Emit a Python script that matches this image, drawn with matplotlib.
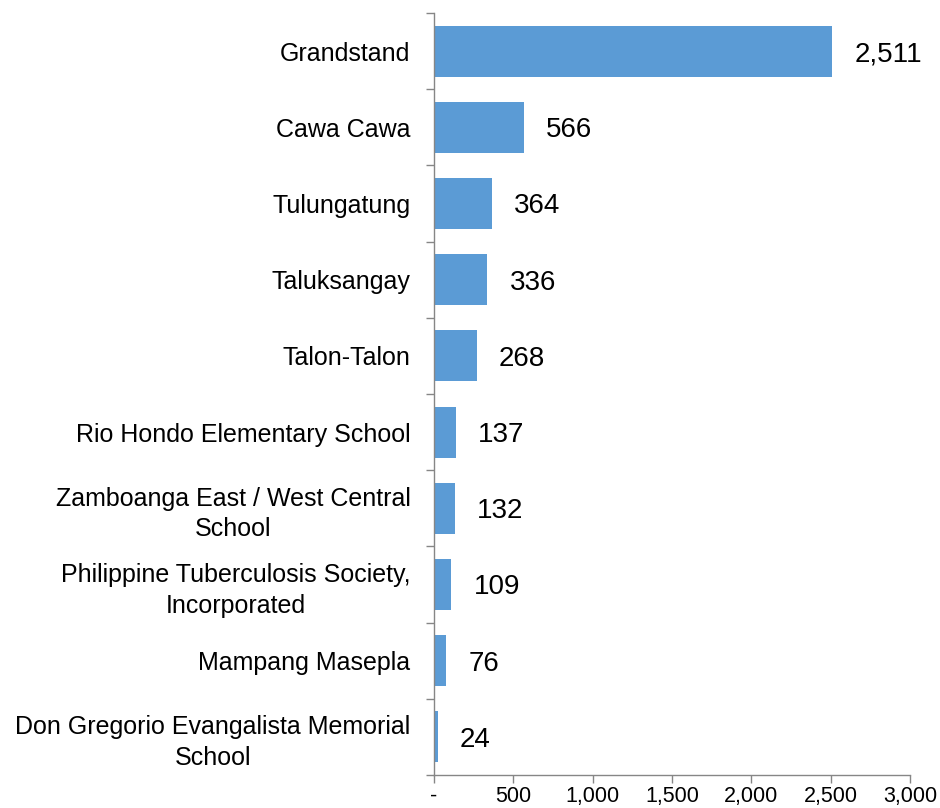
import matplotlib.pyplot as plt
import numpy as np
from matplotlib.ticker import FuncFormatter

plt.rcParams['font.family'] = ['Liberation Sans', 'DejaVu Sans']

sites = ["Grandstand", "Cawa Cawa", "Tulungatung", "Taluksangay", "Talon-Talon",
         "Rio Hondo Elementary School", "Zamboanga East / West Central\nSchool",
         "Philippine Tuberculosis Society,\nIncorporated", "Mampang Masepla",
         "Don Gregorio Evangalista Memorial\nSchool"]
valeurs = [2511, 566, 364, 336, 268, 137, 132, 109, 76, 24]
graduations = [0, 500, 1000, 1500, 2000, 2500, 3000]

gris = '#868686'
bleu = '#5B9BD5'

fig = plt.figure(figsize=(9.4, 8.08), dpi=100)
ax = fig.add_axes([434/940, 1 - 775/808, 476/940, 762/808])

y = np.arange(len(sites))
ax.barh(y, valeurs, height=0.67, color=bleu)

# valeurs a droite des barres
for i, v in enumerate(valeurs):
    ax.annotate(f"{v:,}", (v, i), xytext=(16, 0), textcoords='offset points',
                ha='left', va='center_baseline', fontsize=20, color='black')

ax.set_ylim(len(sites) - 0.5, -0.5)
ax.set_xlim(0, 3000)
ax.set_xticks(graduations)
ax.xaxis.set_major_formatter(FuncFormatter(lambda v, p: '-' if v == 0 else f"{int(v):,}"))

ax.set_yticks(y)
ax.set_yticklabels(sites, fontsize=18)
for lbl in ax.get_yticklabels():
    lbl.set_multialignment('center')
    lbl.set_linespacing(1.35)
ax.tick_params(axis='y', which='major', length=0, pad=17)
ax.set_yticks(np.arange(-0.5, len(sites), 1), minor=True)
ax.tick_params(axis='y', which='minor', length=5.5, color=gris, width=1, direction='out')

ax.tick_params(axis='x', which='major', length=6, color=gris, width=1, direction='out',
               labelsize=15.5, pad=2)

for s in ['top', 'right']:
    ax.spines[s].set_visible(False)
for s in ['left', 'bottom']:
    ax.spines[s].set_color(gris)
    ax.spines[s].set_linewidth(1)

fig.savefig('out.png', dpi=100)
